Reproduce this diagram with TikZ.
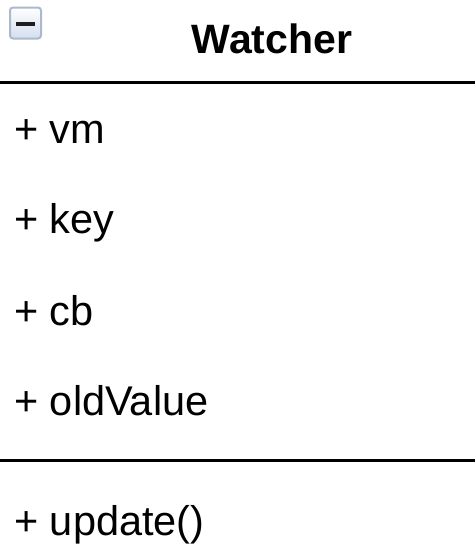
\documentclass[tikz,border=0pt]{standalone}
\usepackage{fontspec}
\setmainfont{Liberation Sans}
\usepackage{xcolor}
\definecolor{IconBorder}{RGB}{170,185,205}
\definecolor{IconFill}{RGB}{212,222,238}
\definecolor{IconBar}{RGB}{30,30,30}
\usepackage{tikz}
\usetikzlibrary{positioning}
\tikzset{
  % Class name
  classname/.style={
    font=\fontsize{41}{49}\selectfont\bfseries,
    inner sep=0pt,
    anchor=base
  },
  % Attribute or method line
  member/.style={
    font=\fontsize{41.5}{49}\selectfont,
    inner sep=0pt,
    anchor=base west
  },
  % Compartment divider
  divider/.style={
    draw=black,
    line width=3pt
  },
  % Collapse icon
  toggle/.style={
    draw=IconBorder,
    top color=white,
    bottom color=IconFill,
    rounded corners=3pt,
    line width=2pt,
    minimum size=31pt,
    inner sep=0pt
  }
}

\begin{document}
\begin{tikzpicture}[x=1pt,y=-1pt]
  \useasboundingbox (0,0) rectangle (475,557);
  % Header
  \node[toggle] (icon) at (25.5,23) {};
  \draw[IconBar, line width=3.5pt] ([xshift=7pt,yshift=-1pt]icon.west) -- ([xshift=-7pt,yshift=-1pt]icon.east);
  \node[classname] (name) at (272,53) {Watcher};
  \draw[divider] (0,82) -- (475,82);

  % Attributes
  \node[member] (vm)       at (14,143) {+ vm};
  \node[member] (key)      at (14,233) {+ key};
  \node[member] (cb)       at (14,325) {+ cb};
  \node[member] (oldvalue) at (14,415) {+ oldValue};
  \draw[divider] (0,460) -- (475,460);

  % Methods
  \node[member] (update) at (14,535) {+ update()};
\end{tikzpicture}
\end{document}
